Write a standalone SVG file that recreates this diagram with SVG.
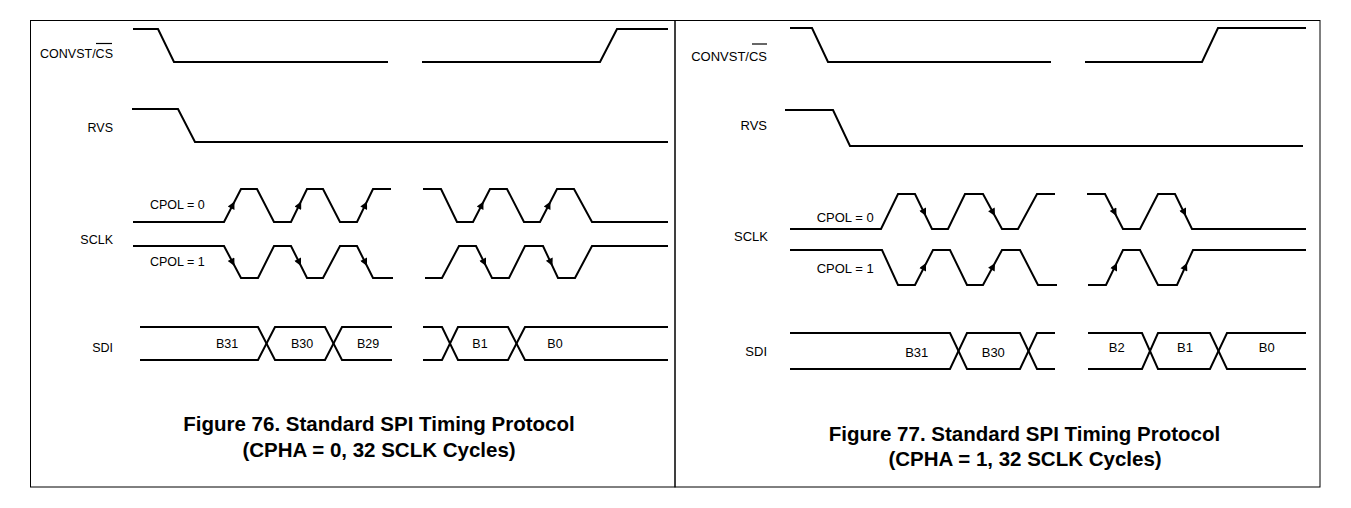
<svg xmlns="http://www.w3.org/2000/svg" width="1351" height="508" viewBox="0 0 1351 508">
<style>
.w{fill:none;stroke:#000;stroke-width:2;stroke-linejoin:miter}
.fr{fill:none;stroke:#000;stroke-width:1}
.lb{font-family:"Liberation Sans",Arial,sans-serif;font-size:12.5px;fill:#000}
.lr{font-family:"Liberation Sans",Arial,sans-serif;font-size:13px;fill:#000}
.cap{font-family:"Liberation Sans",Arial,sans-serif;font-size:20.5px;font-weight:bold;fill:#000;text-anchor:middle}
.e{text-anchor:end}
.m{text-anchor:middle}
.ov{stroke:#000;stroke-width:1.2}
.ar{fill:none;stroke:none;marker-end:url(#ah)}
</style>
<defs>
<marker id="ah" viewBox="0 0 10 10" refX="10" refY="5" markerWidth="11" markerHeight="7.5" markerUnits="userSpaceOnUse" orient="auto">
<path d="M0,0 L10,5 L0,10 z" fill="#000"/>
</marker>
</defs>
<rect width="1351" height="508" fill="#fff"/>
<g id="frames">
<rect class="fr" x="30.5" y="20.5" width="644.5" height="466.5"/>
<rect class="fr" x="675" y="20.5" width="645" height="466.5"/>
</g>

<!-- Figure 76 -->
<g id="fig76-convst">
<text class="lb e" x="113" y="58.3">CONVST/CS</text>
<line class="ov" x1="96" y1="43.5" x2="112" y2="43.5"/>
<path class="w" d="M133,29 H158 L174,62 H388"/>
<path class="w" d="M422,62 H600 L617,29 H668"/>
</g>
<g id="fig76-rvs">
<text class="lb e" x="113" y="131.5">RVS</text>
<path class="w" d="M132,109 H178 L195,142 H668"/>
</g>
<g id="fig76-sclk">
<text class="lb e" x="113" y="244">SCLK</text>
<text class="lb" x="150" y="209.3">CPOL = 0</text>
<text class="lb" x="150" y="266">CPOL = 1</text>
<path class="w" d="M133,222 H224 L241,189 H257 L274,222 H291 L307,189 H323 L340,222 H357 L373,189 H391"/>
<path class="w" d="M423,189 H441 L457,222 H473 L490,189 H507 L524,222 H540 L557,189 H574 L592,222 H668"/>
<path class="w" d="M133,246 H224 L241,278 H258 L274,246 H291 L307,278 H323 L340,246 H357 L373,278 H393"/>
<path class="w" d="M425,278 H442 L459,246 H476 L492,278 H509 L525,246 H543 L558,278 H575 L592,246 H668"/>
</g>
<g id="fig76-sdi">
<text class="lb e" x="113" y="351.7">SDI</text>
<path class="w" d="M140,327 H258 L275,360 H325 L342,327 H392"/>
<path class="w" d="M140,360 H258 L275,327 H325 L342,360 H392"/>
<path class="w" d="M423,327 H442 L458,360 H508 L525,327 H668"/>
<path class="w" d="M423,360 H442 L458,327 H508 L525,360 H668"/>
<text class="lb m" x="227" y="347.5">B31</text>
<text class="lb m" x="302" y="347.5">B30</text>
<text class="lb m" x="368" y="347.5">B29</text>
<text class="lb m" x="480" y="347.5">B1</text>
<text class="lb m" x="555" y="347.5">B0</text>
</g>
<g id="fig76-caption">
<text class="cap" x="379" y="431">Figure 76. Standard SPI Timing Protocol</text>
<text class="cap" x="379" y="456.5">(CPHA = 0, 32 SCLK Cycles)</text>
</g>

<!-- Figure 77 -->
<g id="fig77-convst">
<text class="lr e" x="767" y="60.5">CONVST/CS</text>
<line class="ov" x1="752" y1="44" x2="767" y2="44"/>
<path class="w" d="M790,28 H812 L828,62 H1051"/>
<path class="w" d="M1085,62 H1202 L1218,28 H1306"/>
</g>
<g id="fig77-rvs">
<text class="lr e" x="767" y="129.5">RVS</text>
<path class="w" d="M785,110 H833 L850,146 H1303"/>
</g>
<g id="fig77-sclk">
<text class="lr e" x="768" y="240.7">SCLK</text>
<text class="lr" x="816.7" y="221.5">CPOL = 0</text>
<text class="lr" x="816.7" y="273">CPOL = 1</text>
<path class="w" d="M790,229 H881 L898,194 H915 L932,229 H948 L965,194 H983 L1002,229 H1018 L1037,194 H1055"/>
<path class="w" d="M1087,194 H1105 L1123,229 H1140 L1158,194 H1175 L1192,229 H1306"/>
<path class="w" d="M790,250 H882 L898,285 H915 L933,250 H950 L967,285 H983 L1002,250 H1020 L1038,285 H1057"/>
<path class="w" d="M1088,285 H1106 L1123,250 H1140 L1158,285 H1177 L1193,250 H1306"/>
</g>
<g id="fig77-sdi">
<text class="lr e" x="767" y="356">SDI</text>
<path class="w" d="M790,333 H950 L967,369 H1020 L1037,333 H1055"/>
<path class="w" d="M790,369 H950 L967,333 H1020 L1037,369 H1055"/>
<path class="w" d="M1088,333 H1142 L1158,369 H1210 L1227,333 H1306"/>
<path class="w" d="M1088,369 H1142 L1158,333 H1210 L1227,369 H1306"/>
<text class="lr m" x="916.7" y="356.5">B31</text>
<text class="lr m" x="993.3" y="356.5">B30</text>
<text class="lr m" x="1116.7" y="351.5">B2</text>
<text class="lr m" x="1185" y="351.5">B1</text>
<text class="lr m" x="1266.7" y="351.5">B0</text>
</g>
<g id="fig77-caption">
<text class="cap" x="1024.5" y="440.7">Figure 77. Standard SPI Timing Protocol</text>
<text class="cap" x="1025" y="466">(CPHA = 1, 32 SCLK Cycles)</text>
</g>

<g id="connectors">
<!-- Fig 76 CPOL=0 rising-edge arrows -->
<path class="ar" d="M224,222 L234.5,201.5"/>
<path class="ar" d="M291,222 L301.2,201.5"/>
<path class="ar" d="M357,222 L367,201.5"/>
<path class="ar" d="M473,222 L483.5,201.5"/>
<path class="ar" d="M540,222 L550.5,201.5"/>
<!-- Fig 76 CPOL=1 falling-edge arrows -->
<path class="ar" d="M224,246 L234.5,266"/>
<path class="ar" d="M291,246 L301,266"/>
<path class="ar" d="M357,246 L367,266"/>
<path class="ar" d="M476,246 L486,266"/>
<path class="ar" d="M543,246 L552.5,266"/>
<!-- Fig 77 CPOL=0 falling-edge arrows -->
<path class="ar" d="M915,194 L926,216"/>
<path class="ar" d="M983,194 L995,216"/>
<path class="ar" d="M1105,194 L1116.5,216"/>
<path class="ar" d="M1175,194 L1186,216"/>
<!-- Fig 77 CPOL=1 rising-edge arrows -->
<path class="ar" d="M915,285 L926,263"/>
<path class="ar" d="M983,285 L995,263"/>
<path class="ar" d="M1106,285 L1117,263"/>
<path class="ar" d="M1177,285 L1187,263"/>
</g>
</svg>
